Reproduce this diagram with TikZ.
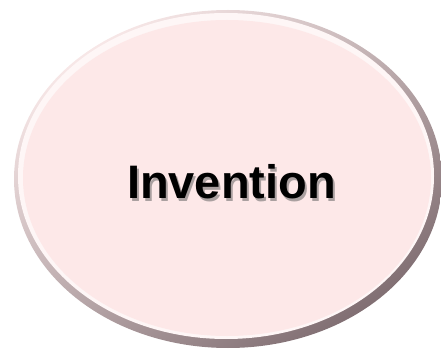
\documentclass[tikz,border=0pt]{standalone}
\usepackage{fontspec}
\setmainfont{Liberation Sans}
\usetikzlibrary{shapes.geometric,positioning}
\definecolor{rimlight}{RGB}{248,232,232}
\definecolor{rimdark}{RGB}{128,110,114}
\definecolor{facepink}{RGB}{253,232,232}
\definecolor{wordshadow}{RGB}{170,160,160}
\newcommand\ShadowWord[1]{\rlap{\hspace{2pt}\raisebox{-2pt}{\color{wordshadow}#1}}#1}
\tikzset{
  rim/.style={
    shape = ellipse,
    inner sep = 0pt,
    minimum width = 428pt,
    minimum height = 338pt,
    top color = rimlight,
    bottom color = rimdark,
    shading angle = 35
  },
  face/.style={
    shape = ellipse,
    inner sep = 0pt,
    minimum width = 408pt,
    minimum height = 316pt,
    fill = facepink
  },
  word/.style={
    anchor = base,
    inner sep = 0pt,
    font = \fontsize{47}{56}\selectfont\bfseries
  }
}
\begin{document}
\begin{tikzpicture}[x=1pt,y=1pt]
  \useasboundingbox (0,0) rectangle (441,356);

  % bevelled oval
  \node[rim] (rim) at (228,177) {};
  \node[face, minimum width=416pt, minimum height=326pt, fill=white!60!facepink] (glow) at (226,180) {};
  \node[face] (face) at (227,178) {};

  % label with drop shadow
  \node[word] (wordtext) at (231.5,157) {\ShadowWord{Invention}};
\end{tikzpicture}
\end{document}
